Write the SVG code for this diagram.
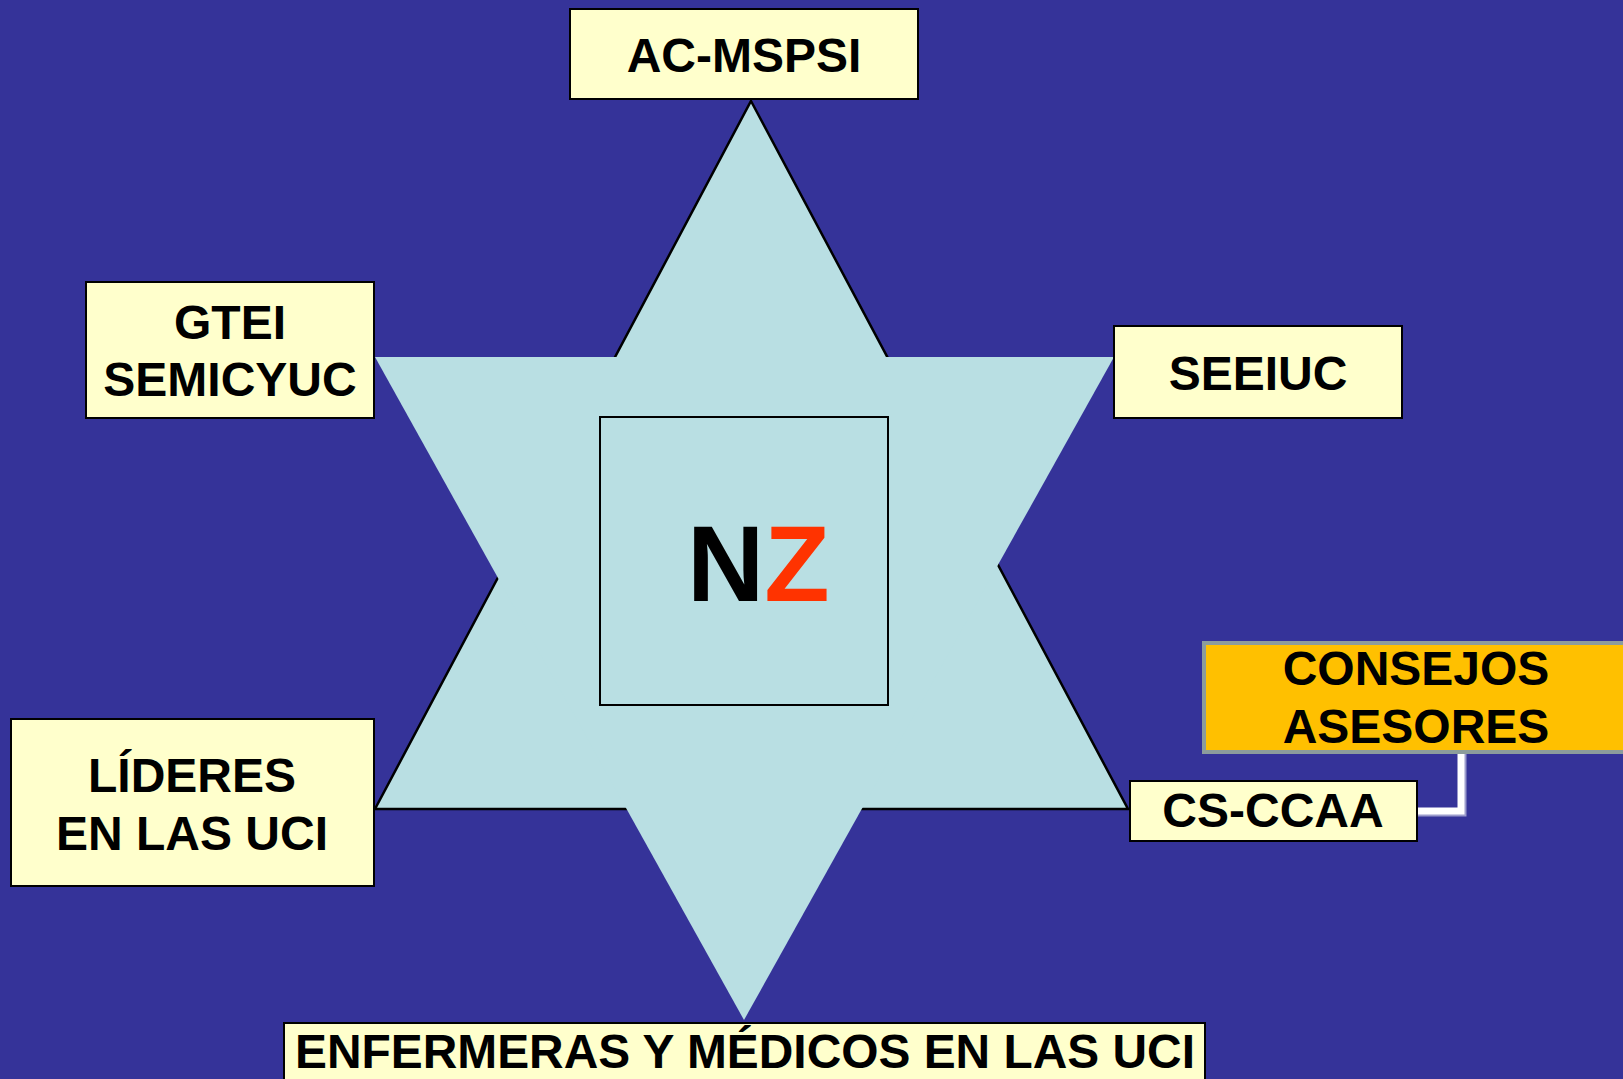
<svg xmlns="http://www.w3.org/2000/svg" width="1623" height="1079" viewBox="0 0 1623 1079">
  <style>
    .box { fill: #FFFFCC; stroke: #000000; stroke-width: 2; }
    .orange { fill: #FFC000; stroke: #8C9C9C; stroke-width: 4; }
    .lbl { font-family: "Liberation Sans", Arial, sans-serif; font-weight: bold; font-size: 48px; fill: #000000; text-anchor: middle; }
  </style>
  <rect x="0" y="0" width="1623" height="1079" fill="#353399"/>

  <g id="star">
    <polygon points="751,101 1128,809 375,809" fill="#B9DFE3" stroke="#000000" stroke-width="2.5" stroke-linejoin="miter"/>
    <polygon points="375,357 1114,357 744,1020" fill="#B9DFE3"/>
  </g>

  <g id="connectors">
    <polyline points="1417,813 1463,813 1463,752" fill="none" stroke="#9C9CCC" stroke-width="7"/>
    <polyline points="1417,811 1461,811 1461,752" fill="none" stroke="#FFFFFF" stroke-width="7"/>
  </g>

  <g id="nz">
    <rect x="600" y="417" width="288" height="288" fill="none" stroke="#000000" stroke-width="2"/>
    <text x="687" y="601" font-family="'Liberation Sans', Arial, sans-serif" font-weight="bold" font-size="107"><tspan fill="#000000">N</tspan><tspan fill="#FF3300">Z</tspan></text>
  </g>

  <g id="ac-mspsi">
    <rect class="box" x="570" y="9" width="348" height="90"/>
    <text class="lbl" x="744" y="72">AC-MSPSI</text>
  </g>

  <g id="gtei-semicyuc">
    <rect class="box" x="86" y="282" width="288" height="136"/>
    <text class="lbl" x="230" y="339">GTEI</text>
    <text class="lbl" x="230" y="396">SEMICYUC</text>
  </g>

  <g id="seeiuc">
    <rect class="box" x="1114" y="326" width="288" height="92"/>
    <text class="lbl" x="1258" y="390">SEEIUC</text>
  </g>

  <g id="consejos-asesores">
    <rect class="orange" x="1204" y="643" width="440" height="109"/>
    <text class="lbl" x="1416" y="685">CONSEJOS</text>
    <text class="lbl" x="1416" y="743">ASESORES</text>
  </g>

  <g id="cs-ccaa">
    <rect class="box" x="1130" y="781" width="287" height="60"/>
    <text class="lbl" x="1273" y="827">CS-CCAA</text>
  </g>

  <g id="lideres">
    <rect class="box" x="11" y="719" width="363" height="167"/>
    <text class="lbl" x="192" y="792">LÍDERES</text>
    <text class="lbl" x="192" y="850">EN LAS UCI</text>
  </g>

  <g id="enfermeras">
    <rect class="box" x="284" y="1023" width="921" height="70"/>
    <text class="lbl" x="745" y="1068" font-size="49" textLength="900" lengthAdjust="spacingAndGlyphs">ENFERMERAS Y MÉDICOS EN LAS UCI</text>
  </g>
</svg>
